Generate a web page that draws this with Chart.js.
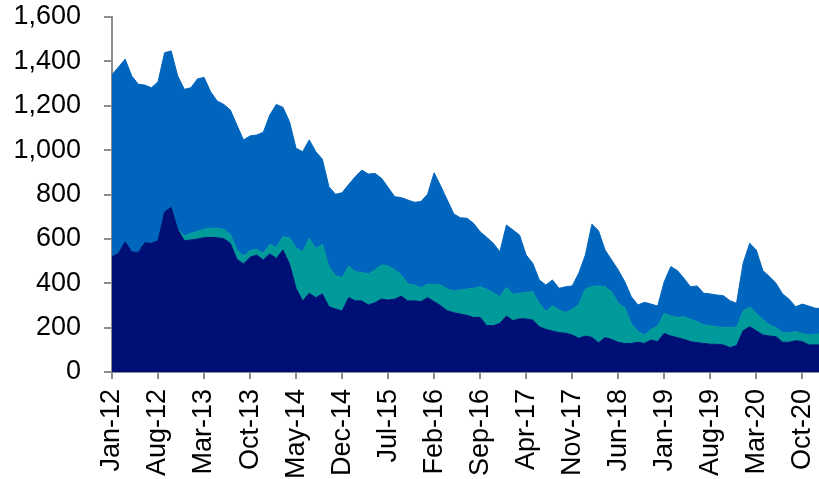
<!DOCTYPE html>
<html>
<head>
<meta charset="utf-8">
<script src="https://cdn.jsdelivr.net/npm/chart.js@4/dist/chart.umd.min.js"></script>
<style>
  html, body { margin: 0; padding: 0; background: #fff; overflow: hidden; }
  #wrap { position: absolute; left: 0; top: 0; width: 822px; height: 479px; }
</style>
</head>
<body>
<div id="wrap"><canvas id="chart"></canvas></div>
<script>
// months Jan-12 .. Jan-21
const monthNames = ["Jan", "Feb", "Mar", "Apr", "May", "Jun", "Jul", "Aug", "Sep", "Oct", "Nov", "Dec"];
const years = ["12", "13", "14", "15", "16", "17", "18", "19", "20", "21"];
const tickLabels = ["Jan-12", "Aug-12", "Mar-13", "Oct-13", "May-14", "Dec-14", "Jul-15", "Feb-16",
  "Sep-16", "Apr-17", "Nov-17", "Jun-18", "Jan-19", "Aug-19", "Mar-20", "Oct-20"];
const yTicks = [0, 200, 400, 600, 800, 1000, 1200, 1400, 1600];

// bottom series (navy)
const navy = [520, 535, 587, 542, 539, 583, 580, 592, 722, 742, 643, 592, 595, 599, 605, 607, 605, 601, 580, 508,
  487, 517, 527, 505, 532, 512, 550, 487, 377, 320, 355, 335, 352, 294, 284, 275, 335, 321, 320, 302,
  312, 329, 324, 328, 342, 320, 321, 317, 335, 317, 299, 276, 267, 261, 255, 246, 246, 209, 209, 219,
  252, 231, 240, 239, 234, 204, 192, 185, 177, 175, 167, 152, 162, 156, 132, 155, 147, 134, 128, 129,
  134, 129, 144, 137, 174, 162, 155, 147, 137, 132, 129, 125, 125, 122, 110, 119, 186, 204, 186, 167,
  162, 159, 134, 134, 141, 137, 122, 122, 122];

// middle series (teal)
const teal = [0, 0, 0, 0, 0, 0, 0, 0, 0, 0, 2, 21, 30, 34, 39, 41, 42, 42, 40, 42,
  36, 30, 26, 30, 43, 50, 60, 118, 183, 222, 247, 222, 223, 181, 150, 150, 143, 131, 129, 140,
  148, 153, 154, 132, 95, 77, 71, 63, 60, 78, 93, 98, 98, 109, 119, 131, 138, 164, 148, 120,
  130, 119, 115, 120, 128, 106, 80, 114, 103, 93, 115, 153, 212, 228, 256, 229, 215, 176, 162, 90,
  48, 38, 48, 70, 90, 90, 91, 102, 100, 95, 83, 84, 79, 79, 91, 82, 89, 88, 78, 70,
  50, 41, 43, 43, 41, 37, 45, 49, 49];

// top series (blue)
const blue = [820, 840, 823, 792, 758, 710, 701, 716, 717, 705, 689, 661, 656, 688, 684, 615, 574, 563, 561, 563,
  523, 517, 515, 545, 583, 644, 583, 523, 448, 451, 444, 436, 384, 360, 367, 383, 367, 428, 461, 450,
  435, 391, 354, 330, 349, 378, 373, 388, 406, 503, 446, 401, 347, 325, 319, 293, 248, 234, 223, 203,
  280, 290, 262, 168, 128, 105, 120, 116, 97, 116, 106, 140, 153, 282, 249, 166, 143, 150, 117, 120,
  120, 147, 114, 90, 143, 223, 211, 173, 147, 161, 143, 143, 143, 143, 120, 109, 215, 288, 286, 220,
  218, 200, 175, 151, 112, 132, 130, 116, 116];

const labels = [];
years.forEach((y) => {
  monthNames.forEach((m) => {
    if (labels.length < navy.length) labels.push(m + "-" + y);
  });
});

function area(data, color, fill) {
  return {
    data: data,
    backgroundColor: color,
    borderColor: color,
    borderWidth: 1,
    pointRadius: 0,
    tension: 0,
    fill: fill
  };
}

const axisColor = "#8c8c8c";
const tickFont = { family: "'Liberation Sans', Arial, sans-serif", size: 27 };

new Chart(document.getElementById("chart"), {
  type: "line",
  data: {
    labels: labels,
    datasets: [
      area(navy, "#000f75", "origin"),
      area(teal, "#009a9a", "-1"),
      area(blue, "#0066bd", "-1")
    ]
  },
  options: {
    responsive: true,
    maintainAspectRatio: false,
    animation: false,
    layout: { padding: { top: 17, left: 0, right: 0, bottom: 0 } },
    plugins: { legend: { display: false }, tooltip: { enabled: false } },
    scales: {
      x: {
        type: "category",
        offset: false,
        grid: { display: true, drawOnChartArea: false, drawTicks: true, tickLength: 7, color: axisColor, lineWidth: 2 },
        border: { display: true, color: axisColor, width: 2 },
        ticks: {
          autoSkip: false,
          maxRotation: 90,
          minRotation: 90,
          padding: 10,
          color: "#000",
          font: tickFont,
          callback: function (val, i) {
            const l = labels[i];
            return tickLabels.includes(l) ? l : null;
          }
        },
        afterFit: function (scale) {
          scale.height = 107;
          // don't let label overhang shrink the plot
          scale.paddingLeft = 0;
          scale.paddingRight = 0;
        }
      },
      y: {
        stacked: true,
        min: 0,
        max: 1600,
        grid: { display: true, drawOnChartArea: false, drawTicks: true, tickLength: 8, color: axisColor, lineWidth: 2 },
        border: { display: true, color: axisColor, width: 2 },
        afterBuildTicks: function (scale) {
          scale.ticks = yTicks.map((v) => ({ value: v }));
        },
        ticks: {
          padding: 23,
          color: "#000",
          font: tickFont,
          callback: function (v) { return v.toLocaleString("en-US"); }
        },
        afterFit: function (scale) {
          scale.width = 112;
          scale.paddingTop = 0;
          scale.paddingBottom = 0;
        }
      }
    }
  }
});
</script>
</body>
</html>
